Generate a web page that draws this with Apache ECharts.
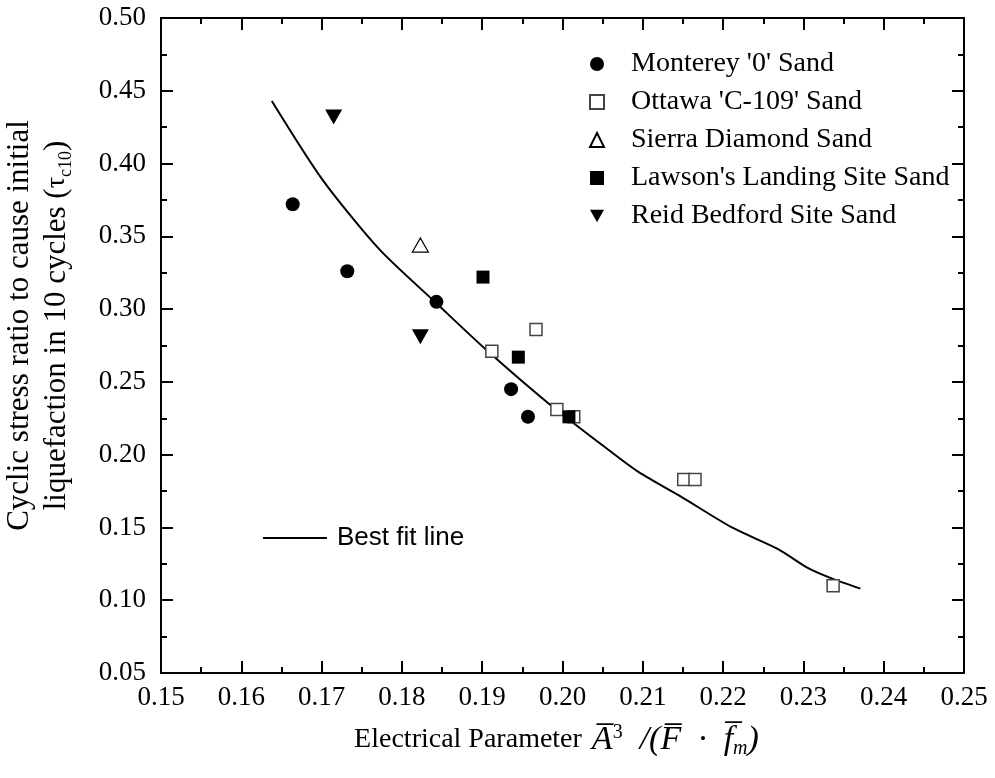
<!DOCTYPE html>
<html>
<head>
<meta charset="utf-8">
<script src="https://cdn.jsdelivr.net/npm/echarts@6/dist/echarts.min.js"></script>
<style>
	html, body { margin: 0; padding: 0; background: #fff; }
	#chart { width: 995px; height: 778px; }
</style>
</head>
<body>
<div id="chart"></div>
<script>
	// data: [electrical parameter, tau_c10]
	var monterey = [[0.1664, 0.372], [0.1732, 0.326], [0.1843, 0.305], [0.1936, 0.245], [0.1957, 0.226]];
	var ottawa = [[0.1912, 0.271], [0.1967, 0.286], [0.1993, 0.231], [0.2014, 0.226], [0.2151, 0.183], [0.2165, 0.183], [0.2337, 0.110]];
	var sierra = [[0.1823, 0.344]];
	var lawson = [[0.1901, 0.322], [0.1945, 0.267], [0.2008, 0.226]];
	var reid = [[0.1715, 0.432], [0.1823, 0.281]];
	var fitX = [0.1638, 0.1701, 0.1772, 0.1843, 0.1905, 0.1983, 0.2058, 0.2095, 0.2148, 0.2211, 0.2269, 0.2306, 0.2335, 0.2371];
	var fitY = [0.443, 0.389, 0.341, 0.304, 0.272, 0.235, 0.203, 0.188, 0.171, 0.150, 0.135, 0.122, 0.115, 0.108];

	var serif = "'Liberation Serif', 'Times New Roman', serif";
	var sans = "'Liberation Sans', Arial, sans-serif";

	var fitLine = [];
	for (var i = 0; i < fitX.length; i++) {
		fitLine.push([fitX[i], fitY[i]]);
	}

	var myChart = echarts.init(document.getElementById('chart'));

	// box axes: ticks inside, one minor tick between majors
	function frameAxis(pos, min, max, interval, showLabel) {
		return {
			type: 'value',
			position: pos,
			min: min,
			max: max,
			interval: interval,
			axisLine: { show: true, onZero: false, lineStyle: { color: '#000', width: 2 } },
			axisTick: { show: true, inside: true, length: 12, lineStyle: { color: '#000', width: 2 } },
			minorTick: { show: true, splitNumber: 2, length: 6, lineStyle: { color: '#000', width: 2 } },
			splitLine: { show: false },
			axisLabel: {
				show: showLabel,
				fontFamily: serif,
				fontSize: 27,
				color: '#000',
				formatter: function (v) { return v.toFixed(2); }
			}
		};
	}

	var xBottom = frameAxis('bottom', 0.15, 0.25, 0.01, true);
	xBottom.axisLabel.margin = 11;
	xBottom.name = '{t|Electrical Parameter}   {m|A\u0305}{sup|3}{m|  /(F\u0305  \u00b7  f\u0305}{sub|m}{m|)}';
	xBottom.nameLocation = 'middle';
	xBottom.nameGap = 48;
	xBottom.nameTextStyle = {
		padding: [0, 12, 0, 0],
		rich: {
			t: { fontFamily: serif, fontSize: 28, color: '#000', lineHeight: 38 },
			m: { fontFamily: serif, fontSize: 34, fontStyle: 'italic', color: '#000', lineHeight: 38 },
			sup: { fontFamily: serif, fontSize: 20, color: '#000', lineHeight: 38, verticalAlign: 'top', padding: [2, 0, 0, 0] },
			sub: { fontFamily: serif, fontSize: 20, fontStyle: 'italic', color: '#000', lineHeight: 38, verticalAlign: 'bottom' }
		}
	};

	var yLeft = frameAxis('left', 0.05, 0.5, 0.05, true);
	yLeft.axisLabel.margin = 15;
	yLeft.name = '{t|Cyclic stress ratio to cause initial}\n{t|liquefaction in 10 cycles (}{g|\u03c4}{sub|c10}{t|)}';
	yLeft.nameLocation = 'middle';
	yLeft.nameRotate = 90;
	yLeft.nameGap = 86;
	yLeft.nameTextStyle = {
		padding: [0, 0, 0, 40],
		rich: {
			t: { fontFamily: serif, fontSize: 31, color: '#000', lineHeight: 37 },
			g: { fontFamily: serif, fontSize: 28, color: '#000', lineHeight: 37 },
			sub: { fontFamily: serif, fontSize: 18, color: '#000', lineHeight: 37, verticalAlign: 'bottom' }
		}
	};

	var option = {
		animation: false,
		backgroundColor: '#fff',
		grid: { left: 161, right: 31, top: 18, bottom: 105, outerBoundsMode: 'none' },
		xAxis: [xBottom, frameAxis('top', 0.15, 0.25, 0.01, false)],
		yAxis: [yLeft, frameAxis('right', 0.05, 0.5, 0.05, false)],
		legend: [{
			orient: 'vertical',
			left: 584,
			top: 44,
			itemWidth: 14,
			itemHeight: 14,
			itemGap: 8,
			selectedMode: false,
			data: ["Monterey '0' Sand", "Ottawa 'C-109' Sand", 'Sierra Diamond Sand', "Lawson's Landing Site Sand", 'Reid Bedford Site Sand'],
			textStyle: { fontFamily: serif, fontSize: 28, color: '#000', lineHeight: 30, padding: [0, 0, 0, 22] }
		}, {
			left: 258,
			top: 519,
			itemWidth: 64,
			itemHeight: 2,
			icon: 'rect',
			selectedMode: false,
			data: ['Best fit line'],
			textStyle: { fontFamily: sans, fontSize: 26, color: '#000', lineHeight: 28, padding: [0, 0, 0, 5] }
		}],
		series: [{
			name: 'Best fit line',
			type: 'line',
			data: fitLine,
			symbol: 'none',
			smooth: 0.25,
			z: 1,
			lineStyle: { color: '#000', width: 2 },
			itemStyle: { color: '#000' }
		}, {
			name: "Monterey '0' Sand",
			type: 'scatter',
			data: monterey,
			symbol: 'circle',
			symbolSize: 14,
			z: 3,
			itemStyle: { color: '#000', opacity: 1 }
		}, {
			name: "Ottawa 'C-109' Sand",
			type: 'scatter',
			data: ottawa,
			symbol: 'rect',
			symbolSize: 12,
			z: 3,
			itemStyle: { color: '#fff', borderColor: '#444', borderWidth: 1.5, opacity: 1 }
		}, {
			name: 'Sierra Diamond Sand',
			type: 'scatter',
			data: sierra,
			symbol: 'triangle',
			symbolSize: [16, 14],
			z: 3,
			itemStyle: { color: '#fff', borderColor: '#000', borderWidth: 1.2, opacity: 1 }
		}, {
			name: "Lawson's Landing Site Sand",
			type: 'scatter',
			data: lawson,
			symbol: 'rect',
			symbolSize: 13,
			z: 3,
			itemStyle: { color: '#000', opacity: 1 }
		}, {
			name: 'Reid Bedford Site Sand',
			type: 'scatter',
			data: reid,
			symbol: 'path://M0,0 L10,0 L5,9 Z',
			symbolSize: [17, 15],
			z: 3,
			itemStyle: { color: '#000', opacity: 1 }
		}]
	};

	myChart.setOption(option);
</script>
</body>
</html>
